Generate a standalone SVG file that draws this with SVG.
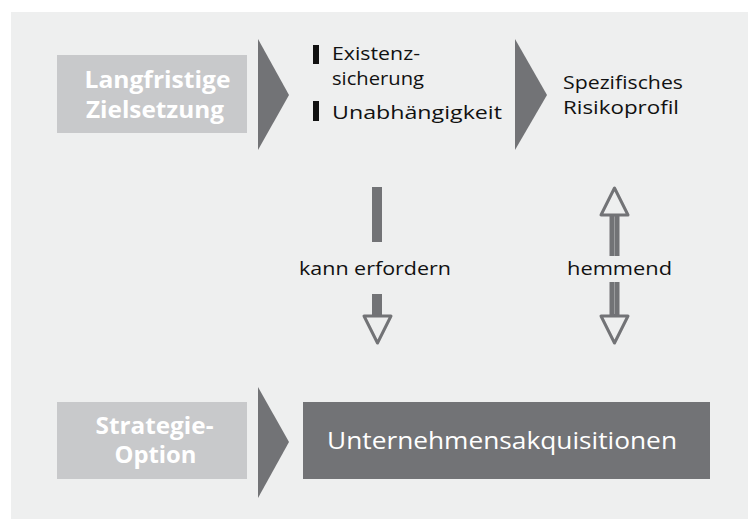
<svg xmlns="http://www.w3.org/2000/svg" width="748" height="521" viewBox="0 0 748 521">
<defs>
<style>
.panel{fill:#eeefef}
.light{fill:#c8c9cb}
.dark{fill:#727376}
.wt{font-family:"Open Sans","Noto Sans",sans-serif;font-weight:bold;font-size:23px;fill:#ffffff;text-anchor:middle}
.bt{font-family:"Open Sans","Noto Sans",sans-serif;font-size:19px;fill:#111111}
.rt{font-family:"Open Sans","Noto Sans",sans-serif;font-size:17.5px;fill:#111111}
.lbl{font-family:"Open Sans","Noto Sans",sans-serif;font-size:19px;fill:#111111;text-anchor:middle}
.head{fill:#eeefef;stroke:#727376;stroke-width:3;stroke-linejoin:round}
.big{font-family:"Open Sans","Noto Sans",sans-serif;font-size:23px;fill:#ffffff;text-anchor:middle}
</style>
</defs>
<rect x="0" y="0" width="748" height="521" fill="#ffffff"/>
<rect class="panel" x="11" y="12" width="737" height="507"/>

<g id="ziel">
<rect class="light" x="57" y="55" width="190" height="78"/>
<text class="wt" x="157.5" y="88" textLength="146" lengthAdjust="spacingAndGlyphs">Langfristige</text>
<text class="wt" x="155" y="118" textLength="138" lengthAdjust="spacingAndGlyphs">Zielsetzung</text>
</g>
<g id="chevron1"><polygon class="dark" points="258,39 289,95 258,150"/></g>
<g id="ziele">
<rect x="313" y="45" width="6" height="19" fill="#111111"/>
<rect x="313" y="101" width="6" height="20" fill="#111111"/>
<text class="bt" x="332" y="60" textLength="88" lengthAdjust="spacingAndGlyphs">Existenz-</text>
<text class="bt" x="332" y="85" textLength="92" lengthAdjust="spacingAndGlyphs">sicherung</text>
<text class="bt" x="332" y="118.5" textLength="170" lengthAdjust="spacingAndGlyphs">Unabhängigkeit</text>
</g>
<g id="chevron2"><polygon class="dark" points="515,39 547,95 515,150"/></g>
<g id="risiko">
<text class="rt" x="563" y="89" textLength="120" lengthAdjust="spacingAndGlyphs">Spezifisches</text>
<text class="rt" x="563" y="113.5" textLength="116" lengthAdjust="spacingAndGlyphs">Risikoprofil</text>
</g>

<g id="strategie">
<rect class="light" x="57" y="402" width="190" height="77"/>
<text class="wt" x="154.5" y="434" textLength="118" lengthAdjust="spacingAndGlyphs">Strategie-</text>
<text class="wt" x="155.5" y="463" textLength="82" lengthAdjust="spacingAndGlyphs">Option</text>
</g>
<g id="chevron3"><polygon class="dark" points="258,387 289,442 258,498"/></g>
<g id="akquisition">
<rect class="dark" x="303" y="402" width="407" height="77"/>
<text class="big" x="502" y="449" textLength="350" lengthAdjust="spacingAndGlyphs">Unternehmensakquisitionen</text>
</g>

<g id="connectors">
<rect class="dark" x="372" y="187" width="10" height="55"/>
<rect class="dark" x="372" y="294" width="10" height="22"/>
<polygon class="head" points="364,316 391,316 377.5,343"/>
<text class="lbl" x="375" y="275" textLength="152" lengthAdjust="spacingAndGlyphs">kann erfordern</text>

<rect class="dark" x="609.5" y="214" width="10" height="42"/>
<line x1="614.5" y1="216" x2="614.5" y2="256" stroke="#9a9b9d" stroke-width="1"/>
<polygon class="head" points="601,215 628,215 614.5,188"/>
<rect class="dark" x="609.5" y="282" width="10" height="34"/>
<line x1="614.5" y1="282" x2="614.5" y2="314" stroke="#9a9b9d" stroke-width="1"/>
<polygon class="head" points="601,316 628,316 614.5,343"/>
<text class="lbl" x="619.5" y="275" textLength="105" lengthAdjust="spacingAndGlyphs">hemmend</text>
</g>
</svg>
